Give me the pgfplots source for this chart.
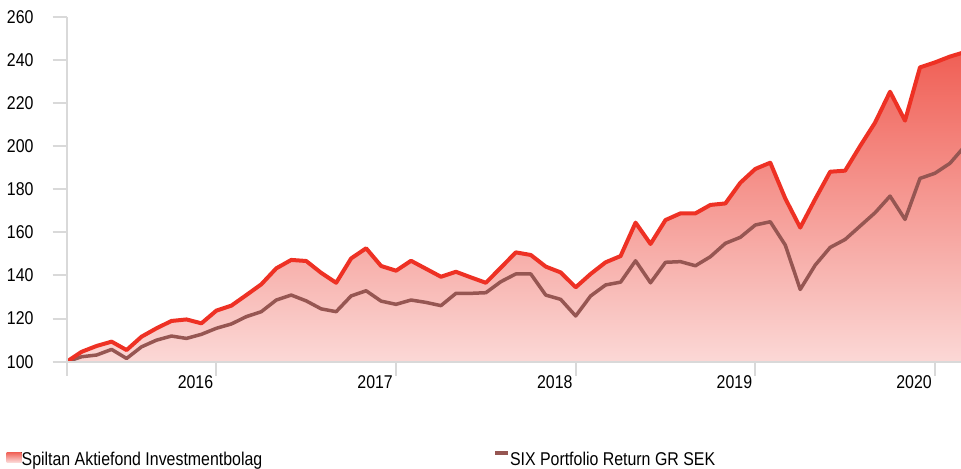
\documentclass[border=0pt]{standalone}
\usepackage{fontspec}
\setmainfont{Liberation Sans}[FakeStretch=0.86]
\usepackage{pgfplots}
\usepackage{pgfplotstable}
\pgfplotsset{compat=1.18}
\definecolor{redline}{RGB}{238,49,36}
\definecolor{grayline}{RGB}{150,86,82}
\definecolor{filltop}{RGB}{240,95,85}
\definecolor{fillbot}{RGB}{251,216,214}
\definecolor{axgray}{RGB}{217,217,217}

\pgfplotstableread{
i fund index
0 100.0 100.0
1 104.6 102.3
2 107.3 103.1
3 109.3 105.7
4 105.4 101.5
5 111.6 106.9
6 115.5 110.0
7 118.9 111.9
8 119.6 110.8
9 117.8 112.7
10 123.7 115.5
11 126.0 117.5
12 130.9 120.9
13 135.9 123.2
14 143.3 128.6
15 147.2 130.9
16 146.7 128.2
17 141.2 124.5
18 136.6 123.2
19 147.9 130.5
20 152.6 132.9
21 144.4 128.1
22 142.2 126.6
23 146.8 128.6
24 143.1 127.5
25 139.4 126.0
26 141.7 131.7
27 139.1 131.7
28 136.6 132.0
29 143.6 137.1
30 150.7 140.7
31 149.5 140.7
32 144.1 130.9
33 141.4 128.9
34 134.5 121.2
35 140.7 130.5
36 146.1 135.6
37 149.0 136.9
38 164.5 146.8
39 154.6 136.6
40 165.7 146.1
41 168.8 146.4
42 168.8 144.5
43 172.7 148.7
44 173.4 154.9
45 183.0 157.7
46 189.4 163.4
47 192.3 164.9
48 175.7 154.1
49 162.2 133.5
50 175.4 144.8
51 188.1 153.0
52 188.6 156.7
53 200.0 162.9
54 210.9 169.1
55 225.2 176.8
56 211.8 166.0
57 236.5 185.0
58 238.8 187.4
59 241.5 192.0
60 243.6 200.0
}\datatable

\begin{document}
\fontsize{18.5pt}{22pt}\selectfont
\begin{tikzpicture}
\begin{axis}[
  name=ax,
  scale only axis,
  width=894.3pt, height=345pt,
  xmin=0, xmax=59.74,
  ymin=100, ymax=260,
  axis lines=left,
  axis line style={-, draw=axgray, line width=2pt},
  axis on top,
  xtick={10,22,34,46,58},
  xticklabels={2016,2017,2018,2019,2020},
  extra x ticks={0},
  extra x tick labels={},
  ytick={100,120,...,260},
  tick align=outside,
  major tick length=14pt,
  tick style={draw=axgray, line width=2pt},
  minor tick num=0,
  /pgf/number format/assume math mode=true,
  /pgf/number format/1000 sep={},
  xticklabel style={anchor=north east, inner sep=0pt, xshift=-3pt, font=\fontsize{18.5pt}{22pt}\selectfont},
  yticklabel style={anchor=east, inner sep=0pt, xshift=-19pt, font=\fontsize{18.5pt}{22pt}\selectfont},
  legend columns=2,
  legend cell align=left,
  legend style={
    at={(axis description cs:-0.0671,-0.3078)}, anchor=south west,
    draw=none, fill=none, inner sep=0pt, outer sep=0pt,
    column sep=0pt, row sep=0pt,
    font=\fontsize{18.5pt}{22pt}\selectfont,
    nodes={inner sep=0pt, outer sep=0pt, anchor=base west},
  },
]
\addplot[draw=none, top color=filltop, bottom color=fillbot,
  legend image code/.code={\fill[top color=filltop, bottom color=fillbot] (0pt,3pt) rectangle (15pt,13pt);}]
  table[x=i, y=fund] {\datatable} \closedcycle;
\addlegendentry{\makebox[471.3pt][l]{Spiltan Aktiefond Investmentbolag}}
\addplot[grayline, line width=3.5pt, line join=round,
  legend image code/.code={\draw[line width=4pt, grayline] (0pt,11.7pt) -- (13pt,11.7pt);}]
  table[x=i, y=index] {\datatable};
\addlegendentry{SIX Portfolio Return GR SEK}
\addplot[redline, line width=4pt, line join=round, forget plot]
  table[x=i, y=fund] {\datatable};
\end{axis}
\pgfresetboundingbox
\path[use as bounding box] ([shift={(-66.7pt,-106.3pt)}]ax.south west) rectangle ([shift={(0pt,16.7pt)}]ax.north east);
\end{tikzpicture}
\end{document}
